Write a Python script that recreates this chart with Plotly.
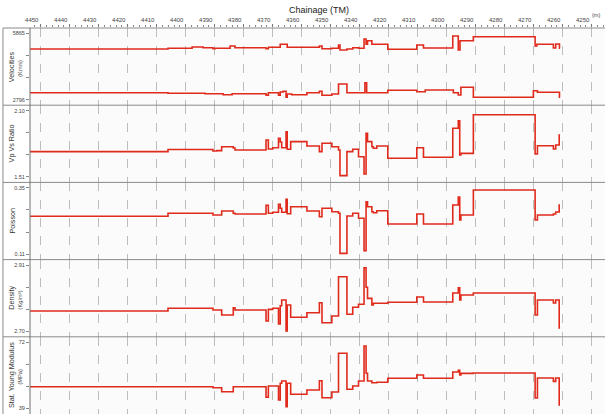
import plotly.graph_objects as go
from plotly.subplots import make_subplots

# ---------------- data ----------------
TICK_POS = [4450 - 10 * k for k in range(20)]
TICK_TEXT = ["4450", "4440", "4430", "4420", "4410", "4400", "4390", "4380", "4370", "4360",
             "4350", "4340", "4320", "4310", "4300", "4290", "4280", "4270", "4260", "4250"]

VP_CH = [4453.7, 4406.1, 4397.8, 4394.0, 4390.6, 4389.9, 4384.7, 4383.0, 4372.3, 4371.5, 4367.4, 4365.0,
         4353.9, 4353.0, 4349.6, 4347.3, 4346.8, 4344.4, 4342.4, 4340.4, 4338.5, 4337.8, 4337.3, 4335.8,
         4330.3, 4320.3, 4318.0, 4307.9, 4306.0, 4305.4, 4300.8, 4279.5, 4278.9, 4273.2, 4272.4, 4271.1, 4270.9]
VP_VAL = [5146, 5179, 5239, 5207, 5160, 5179, 5285, 5207, 5160, 5225, 5364, 5225,
          5285, 5160, 5179, 5332, 5100, 5146, 5207, 5179, 5610, 5364, 5531, 5364,
          5132, 5332, 5193, 5749, 5100, 5531, 5717, 5285, 5364, 5193, 5378, 5179, 5179]

VS_CH = [4453.7, 4406.1, 4393.3, 4387.1, 4384.0, 4372.3, 4371.5, 4368.0, 4367.4, 4366.4, 4365.4, 4365.0,
         4363.4, 4358.2, 4353.9, 4353.0, 4349.6, 4347.3, 4344.4, 4338.2, 4337.6, 4330.3, 4320.3, 4317.4,
         4307.7, 4306.0, 4305.1, 4300.8, 4280.1, 4278.7, 4271.1, 4270.9]
VS_VAL = [3120, 3093, 3074, 3028, 3074, 3000, 3120, 3000, 3153, 3185, 2907, 3060,
          3028, 3120, 3185, 3000, 3060, 3524, 3120, 3584, 3120, 3232, 3167, 3246,
          3120, 3014, 3371, 2907, 3213, 3139, 2907, 2907]

SEG_CH = [4453.7, 4406.1, 4390.6, 4389.3, 4387.6, 4383.6, 4383.0, 4372.3, 4371.5, 4370.0, 4368.0, 4367.4,
          4366.9, 4365.4, 4365.0, 4363.8, 4358.2, 4353.9, 4353.0, 4349.6, 4347.3, 4346.8, 4344.4, 4342.4,
          4340.4, 4338.5, 4337.8, 4337.3, 4335.8, 4335.3, 4334.1, 4330.3, 4320.3, 4318.0, 4307.9, 4306.0,
          4305.5, 4305.1, 4300.8, 4279.5, 4278.7, 4273.2, 4272.4, 4271.2, 4270.9]

VPVS_VAL = [1.735, 1.754, 1.741, 1.744, 1.779, 1.768, 1.750, 1.839, 1.759, 1.770, 1.854, 1.821,
            1.770, 1.913, 1.756, 1.824, 1.785, 1.735, 1.810, 1.779, 1.750, 1.521, 1.735, 1.756,
            1.690, 1.536, 1.899, 1.824, 1.779, 1.765, 1.785, 1.676, 1.770, 1.685, 1.943, 2.011,
            1.705, 1.720, 2.064, 1.714, 1.788, 1.759, 1.794, 1.883, 1.883]

POISSON_VAL = [0.2470, 0.2579, 0.2517, 0.2517, 0.2662, 0.2579, 0.2553, 0.2869, 0.2579, 0.2615, 0.2905, 0.2760,
               0.2615, 0.3086, 0.2564, 0.2818, 0.2662, 0.2455, 0.2760, 0.2637, 0.2579, 0.1128, 0.2481, 0.2579,
               0.2397, 0.1222, 0.2999, 0.2818, 0.2637, 0.2600, 0.2673, 0.2191, 0.2553, 0.2191, 0.2879, 0.3170,
               0.2336, 0.2517, 0.3423, 0.2336, 0.2517, 0.2553, 0.2626, 0.2879, 0.2879]

DENSITY_VAL = [2.7644, 2.7729, 2.7675, 2.7675, 2.7517, 2.7748, 2.7675, 2.7326, 2.7697, 2.7729, 2.7231, 2.7812,
               2.7992, 2.7009, 2.7834, 2.7444, 2.7590, 2.7907, 2.7272, 2.7485, 2.8732, 2.8732, 2.7539, 2.7761,
               2.7856, 2.9017, 2.8395, 2.8046, 2.7834, 2.7888, 2.7888, 2.7920, 2.8088, 2.7929, 2.8215, 2.8376,
               2.7992, 2.8151, 2.8215, 2.7517, 2.7992, 2.7898, 2.7992, 2.7104, 2.7104]

YOUNG_VAL = [49.86, 49.86, 49.37, 49.37, 47.37, 49.86, 49.86, 44.58, 50.21, 50.21, 43.24, 51.56,
             52.71, 39.89, 51.56, 46.08, 48.22, 52.86, 44.38, 47.22, 66.51, 66.51, 48.57, 50.21,
             52.71, 70.15, 56.54, 52.71, 51.86, 51.86, 52.06, 54.05, 55.70, 54.05, 57.19, 58.00,
             55.70, 56.50, 56.70, 44.23, 54.20, 52.50, 54.20, 40.74, 40.74]

PANEL_MIN = [2796, 1.51, 0.11, 2.70, 39]
PANEL_MAX = [5865, 2.10, 0.35, 2.91, 72]
PANEL_MIN_TXT = ["2796", "1.51", "0.11", "2.70", "39"]
PANEL_MAX_TXT = ["5865", "2.10", "0.35", "2.91", "72"]
PANEL_TITLE = ["Velocities", "Vp Vs Ratio", "Poisson", "Density", "Stat. Young Modulus"]
PANEL_UNIT = ["(Km/s)", "", "", "(Kg/m³)", "(MPa)"]

# ---------------- figure ----------------
RED = "#e02a1c"
FONT = "Arial, Liberation Sans, sans-serif"

fig = make_subplots(rows=5, cols=1, shared_xaxes=True, vertical_spacing=0)

series = [
    (1, VP_CH, VP_VAL),
    (1, VS_CH, VS_VAL),
    (2, SEG_CH, VPVS_VAL),
    (3, SEG_CH, POISSON_VAL),
    (4, SEG_CH, DENSITY_VAL),
    (5, SEG_CH, YOUNG_VAL),
]
for row, xs, ys in series:
    assert len(xs) == len(ys)
    fig.add_trace(go.Scatter(x=xs, y=ys, mode="lines", line=dict(color=RED, width=1.6, shape="hv"),
                             showlegend=False, hoverinfo="skip"), row=row, col=1)

X_RANGE = [4453.7, 4255.4]
for r in range(1, 6):
    common = dict(range=X_RANGE, showgrid=True, gridcolor="#bdbdbd", griddash="dash", gridwidth=1,
                  tickvals=TICK_POS, zeroline=False, showline=False, automargin=False)
    if r == 1:
        fig.update_xaxes(row=r, col=1, side="top", showticklabels=True, ticktext=TICK_TEXT,
                         ticks="outside", ticklen=3, tickcolor="#777", tickwidth=1,
                         tickfont=dict(size=6, color="#444", family=FONT), ticklabelshift=9,
                         minor=dict(dtick=2, ticks="outside", ticklen=2, tickcolor="#888", showgrid=False),
                         **common)
    else:
        fig.update_xaxes(row=r, col=1, showticklabels=False, ticks="", **common)

for i in range(5):
    lo, hi = PANEL_MIN[i], PANEL_MAX[i]
    pad = (hi - lo) * 5.5 / 66.2
    d = (hi - lo) / 3
    fig.update_yaxes(row=i + 1, col=1, range=[lo - pad, hi + pad],
                     tickvals=[lo, lo + d, lo + 2 * d, hi],
                     ticktext=[PANEL_MIN_TXT[i], "", "", PANEL_MAX_TXT[i]],
                     ticks="outside", ticklen=3, tickcolor="#888",
                     tickfont=dict(size=5.5, color="#444", family=FONT),
                     showgrid=False, zeroline=False, showline=False, automargin=False)

shapes = []
LEFT = -0.047
for yb in [1.0, 0.8, 0.6, 0.4, 0.2]:
    shapes.append(dict(type="line", xref="paper", yref="paper", x0=LEFT, x1=1, y0=yb, y1=yb,
                       line=dict(color="#8a8a8a", width=1)))
shapes.append(dict(type="line", xref="paper", yref="paper", x0=0, x1=0, y0=0, y1=1,
                   line=dict(color="#707070", width=1)))
shapes.append(dict(type="line", xref="paper", yref="paper", x0=LEFT, x1=LEFT, y0=0, y1=1,
                   line=dict(color="#8a8a8a", width=1)))

annotations = [
    dict(text="Chainage (TM)", xref="paper", yref="paper", x=0.5026, y=1.047, showarrow=False,
         font=dict(size=9, color="#222", family=FONT), xanchor="center", yanchor="middle"),
    dict(text="(m)", xref="paper", yref="paper", x=0.984, y=1.033, showarrow=False,
         font=dict(size=5.5, color="#444", family=FONT), xanchor="center", yanchor="middle"),
]
for i in range(5):
    yc = 1 - 0.2 * (i + 0.5)
    annotations.append(dict(text=PANEL_TITLE[i], xref="paper", yref="paper", x=-0.032, y=yc, textangle=-90,
                            showarrow=False, font=dict(size=7.2, color="#333", family=FONT),
                            xanchor="center", yanchor="middle"))
    if PANEL_UNIT[i]:
        annotations.append(dict(text=PANEL_UNIT[i], xref="paper", yref="paper", x=-0.018, y=yc - 0.004,
                                textangle=-90, showarrow=False,
                                font=dict(size=5.7, color="#444", family=FONT),
                                xanchor="center", yanchor="middle"))

fig.update_layout(width=605, height=414, margin=dict(l=30, r=0, t=28, b=0),
                  paper_bgcolor="white", plot_bgcolor="#fbfbfb",
                  shapes=shapes, annotations=annotations, showlegend=False)

fig.write_html("out.html", config={"displayModeBar": False},
               post_script="document.body.style.margin='0';document.body.style.padding='0';")
